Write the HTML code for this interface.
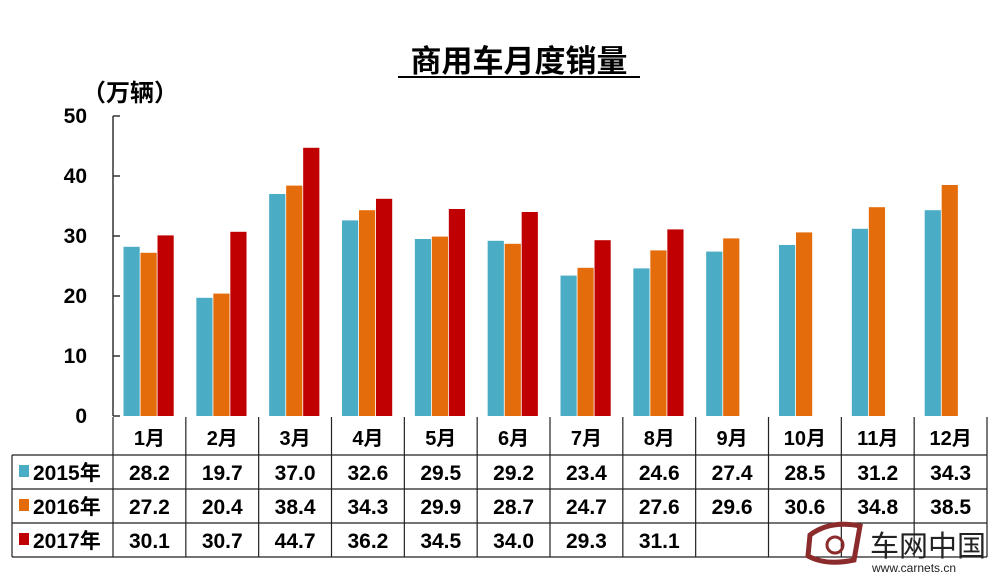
<!DOCTYPE html>
<html><head><meta charset="utf-8"><style>
body{margin:0;background:#fff;}
svg text{font-family:"Liberation Sans","Noto Sans CJK SC",sans-serif;font-weight:bold;fill:#000;}
</style></head><body>
<svg id="c" width="1000" height="579" viewBox="0 0 1000 579" xmlns="http://www.w3.org/2000/svg">
<text x="519" y="72" font-size="31" text-anchor="middle">商用车月度销量</text>
<line x1="398" y1="77" x2="640" y2="77" stroke="#000" stroke-width="2"/>
<text x="82" y="101" font-size="24">（万辆）</text>
<g id="axis"></g><g id="bars"></g><g id="table"></g>
<g>
<path d="M810 535 Q830 520 860 526 L854 560 Q826 566 808 556 Z" fill="none" stroke="#8b2b2b" stroke-width="5"/>
<circle cx="835" cy="545" r="8" fill="none" stroke="#8b2b2b" stroke-width="3"/>
<text x="870" y="556" font-size="29" style="font-weight:normal;fill:#222">车网中国</text>
<text x="872" y="572" font-size="12" style="font-weight:normal;fill:#222">www.carnets.cn</text>
</g>
</svg>
<script>
const categories=["1月","2月","3月","4月","5月","6月","7月","8月","9月","10月","11月","12月"];
const seriesNames=["2015年","2016年","2017年"];
const s2015=[28.2,19.7,37.0,32.6,29.5,29.2,23.4,24.6,27.4,28.5,31.2,34.3];
const s2016=[27.2,20.4,38.4,34.3,29.9,28.7,24.7,27.6,29.6,30.6,34.8,38.5];
const s2017=[30.1,30.7,44.7,36.2,34.5,34.0,29.3,31.1];
const yTicks=[0,10,20,30,40,50];
const NS="http://www.w3.org/2000/svg";
const colors=["#4bacc6","#e46c0a","#c00000"];
const series=[s2015,s2016,s2017];
const x0=113,x1=987,y0=416,yTop=116,ymax=50;
const cw=(x1-x0)/categories.length;
const y=v=>y0-(v/ymax)*(y0-yTop);
function mk(tag,attrs,parent){const e=document.createElementNS(NS,tag);for(const k in attrs)e.setAttribute(k,attrs[k]);parent.appendChild(e);return e;}
const ax=document.getElementById('axis'),bg=document.getElementById('bars'),tb=document.getElementById('table');
let e=mk('line',{x1:x0,y1:yTop,x2:x0,y2:y0,stroke:'#333','stroke-width':1.5},ax);


yTicks.forEach(t=>{
 let l=mk('line',{x1:x0,y1:y(t),x2:x0+7,y2:y(t),stroke:'#333','stroke-width':1.5},ax);
 
 
 let tx=mk('text',{x:87,y:y(t)+7,'font-size':21,'text-anchor':'end'},ax);tx.textContent=t;
 
 
});
const bw=17,off=10.5;
series.forEach((s,si)=>{s.forEach((v,i)=>{
 const r=mk('rect',{x:x0+i*cw+off+si*bw,y:y(v),width:bw-0.8,height:y0-y(v),fill:colors[si]},bg);
 
 
});});
const rows=[417,455,489,523,557];
const st={stroke:'#222','stroke-width':1.2};
function ln(a,b,c,d){const l=mk('line',Object.assign({x1:a,y1:b,x2:c,y2:d},st),tb);
 
 }
ln(x0,417,x0,557);
for(let i=1;i<=categories.length;i++)ln(x0+i*cw,417,x0+i*cw,557);
ln(x0,455,x1,455);ln(12,455,12,557);
for(let r=2;r<rows.length;r++)ln(12,rows[r],x1,rows[r]);
ln(12,455,x0,455);
categories.forEach((c,i)=>{
 const t=mk('text',{x:x0+i*cw+cw/2,y:445,'font-size':20,'text-anchor':'middle'},tb);t.textContent=c;
 
 
});
series.forEach((s,si)=>{
 const cy=(rows[si+1]+rows[si+2])/2;
 const sq=mk('rect',{x:19,y:cy-7,width:10,height:12,fill:colors[si]},tb);
 
 
 const lt=mk('text',{x:33,y:cy+8,'font-size':21},tb);lt.textContent=seriesNames[si];
 
 
 s.forEach((v,i)=>{
  const t=mk('text',{x:x0+i*cw+cw/2,y:cy+8,'font-size':21,'text-anchor':'middle'},tb);t.textContent=v.toFixed(1);
  
  
 });
});
</script>
</body></html>
